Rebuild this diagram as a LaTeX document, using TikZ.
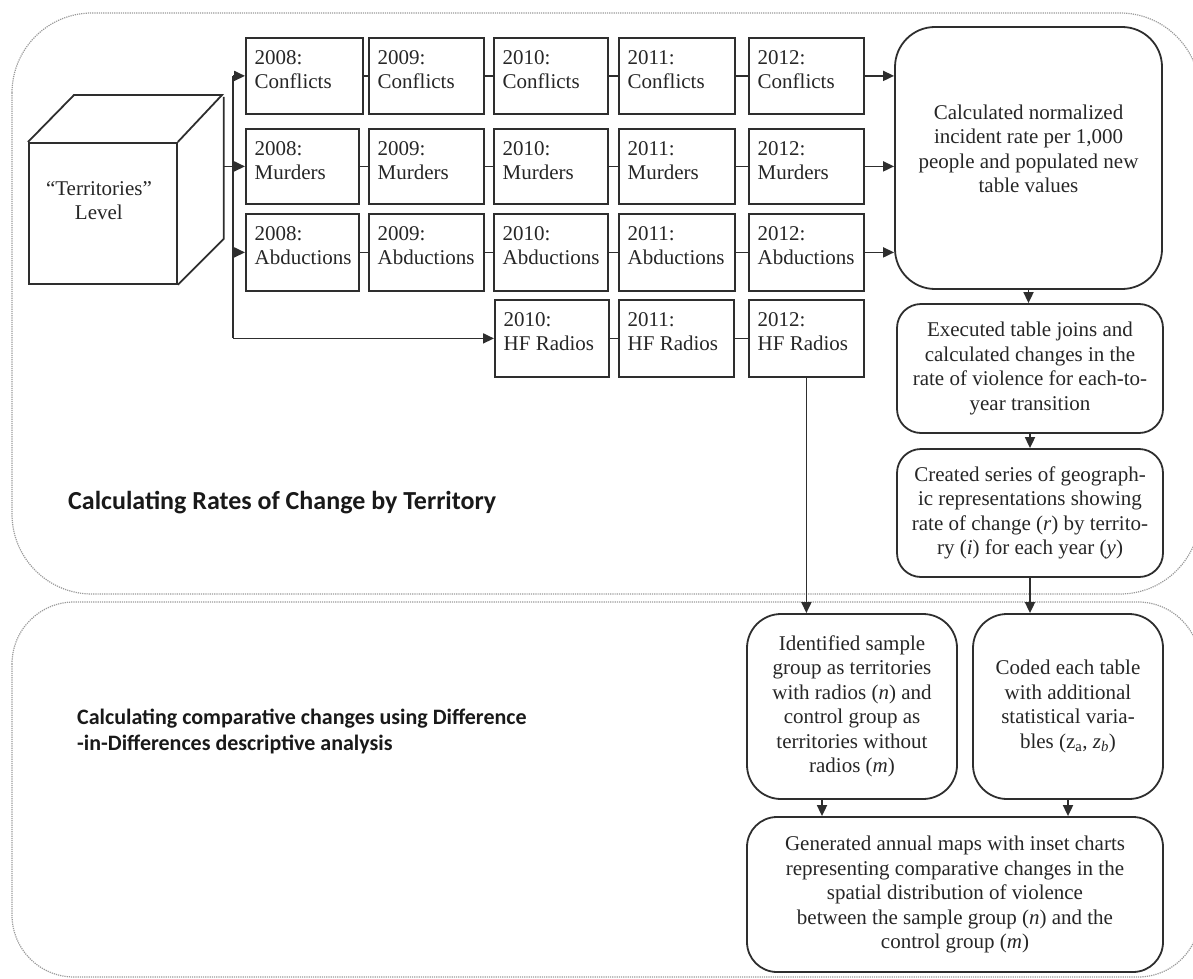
\documentclass[tikz,border=0pt]{standalone}
\usepackage{fontspec}
\setmainfont{Liberation Serif}
\newfontfamily\lblfont{Carlito}
\usetikzlibrary{arrows.meta,calc}
\newcommand\yrbox[7]{%
  \node[ybox, minimum width=#4-#2, minimum height=#5-#3] (#1) at (#2,#3) {};
  \node[ytxt] at ($(#1.north west)+(9.5,13.8)$) {#6\\#7};}
\begin{document}
\begin{tikzpicture}[x=1pt,y=-1pt,
 line/.style={draw=black!82, line width=1.8pt},
 arr/.style={line, -{Triangle[length=11pt,width=10pt]}},
 ybox/.style={line, rectangle, inner sep=0pt, anchor=north west},
 ytxt/.style={anchor=north west, inner sep=0pt, align=left, text=black!85, font=\fontsize{21}{24}\selectfont},
 txt/.style={inner sep=0pt, align=center, text=black!85, font=\fontsize{21}{24.5}\selectfont},
 rbox/.style={line, rectangle, rounded corners=#1, inner sep=0pt, align=center, text=black!85, font=\fontsize{21}{24.5}\selectfont},
 rbox/.default=25pt,
 cont/.style={draw=black!40, densely dotted, line width=1.2pt},
 lbl/.style={inner sep=0pt, text=black!90, font=\lblfont\bfseries\fontsize{22}{26}\selectfont}
]
\useasboundingbox (0,0) rectangle (1193,979);
\clip (0,0) rectangle (1193,979);
% containers
\draw[cont, rounded corners=80pt] (12,13) rectangle (1200,594);
\draw[cont, rounded corners=62pt] (12,602) rectangle (1200,977);
% cube
\node[line, rectangle, inner sep=0pt, anchor=north west, minimum width=148, minimum height=141] (cube) at (28,142) {};
\draw[line, line join=miter] (cube.north west) -- ++(46,-47) -- ++(148,0) -- (cube.north east);
\draw[line, line join=miter] (cube.south east) -- ++(46,-46) -- ++(0,-142);
\node[txt] (cubetxt) at ($(cube.center)+(-4,-13)$) {“Territories”\\Level};
\coordinate (cubeR) at ($(cube.north east)+(46,0)$);
\coordinate (bus) at (233,0);
% year boxes
\yrbox{c08}{245}{37}{362}{113}{2008:}{Conflicts}
\yrbox{c09}{368}{37}{483}{113}{2009:}{Conflicts}
\yrbox{c10}{493}{37}{607}{113}{2010:}{Conflicts}
\yrbox{c11}{618}{37}{734}{113}{2011:}{Conflicts}
\yrbox{c12}{748}{37}{863}{113}{2012:}{Conflicts}
\yrbox{m08}{245}{128}{358}{203}{2008:}{Murders}
\yrbox{m09}{368}{128}{483}{203}{2009:}{Murders}
\yrbox{m10}{493}{128}{607}{203}{2010:}{Murders}
\yrbox{m11}{618}{128}{734}{203}{2011:}{Murders}
\yrbox{m12}{748}{128}{863}{203}{2012:}{Murders}
\yrbox{a08}{245}{213}{358}{290}{2008:}{Abductions}
\yrbox{a09}{368}{213}{483}{290}{2009:}{Abductions}
\yrbox{a10}{493}{213}{607}{290}{2010:}{Abductions}
\yrbox{a11}{618}{213}{734}{290}{2011:}{Abductions}
\yrbox{a12}{748}{213}{863}{290}{2012:}{Abductions}
\yrbox{h10}{494}{299}{608}{376}{2010:}{HF Radios}
\yrbox{h11}{618}{299}{733}{376}{2011:}{HF Radios}
\yrbox{h12}{748}{299}{863}{376}{2012:}{HF Radios}
% rounded process boxes
\node[rbox=40pt, minimum width=267, minimum height=262] (norm) at (1028.5,158) {};
\node[txt] (normtxt) at ($(norm.center)+(0,-9)$) {Calculated normalized\\incident rate per 1,000\\people and populated new\\table values};
\node[rbox=24pt, minimum width=266, minimum height=129] (exec) at (1030,368.5) {Executed table joins and\\calculated changes in the\\rate of violence for each-to-\\year transition};
\node[rbox=24pt, minimum width=266, minimum height=128] (created) at (1030,513) {Created series of geograph-\\ic representations showing\\rate of change (\textit{r}) by territo-\\ry (\textit{i}) for each year (\textit{y})};
\node[rbox=34pt, minimum width=210, minimum height=185] (ident) at (852,706.5) {Identified sample\\group as territories\\with radios (\textit{n}) and\\control group as\\territories without\\radios (\textit{m})};
\node[rbox=34pt, minimum width=190, minimum height=185] (coded) at (1068,706.5) {Coded each table\\with additional\\statistical varia-\\bles (z\textsubscript{a}, \textit{z}\textsubscript{\textit{b}})};
\node[rbox=30pt, minimum width=416, minimum height=155] (gen) at (955,894.5) {Generated annual maps with inset charts\\representing comparative changes in the\\spatial distribution of violence\\between the sample group (\textit{n}) and the\\control group (\textit{m})};
% labels
\node[lbl, anchor=base west, font=\lblfont\bfseries\fontsize{26}{30}\selectfont] (lab1) at (68,509) {Calculating Rates of Change by Territory};
\node[lbl, anchor=north west, align=left] (lab2) at (77,709) {Calculating comparative changes using Difference\\-in-Differences descriptive analysis};
% connectors in rows
\foreach \r in {c,m,a}{
  \foreach \p/\q in {08/09,09/10,10/11,11/12}{\draw[line] (\r\p.east) -- (\r\q.west);}
  \draw[arr] (\r12.east) -- (\r12.east -| norm.west);
}
\draw[line] (h10.east) -- (h11.west);
\draw[line] (h11.east) -- (h12.west);
% bus
\draw[line] (c08.west -| bus) -- (h10.west -| bus);
\draw[arr] (c08.west -| bus) -- (c08.west);
\draw[arr] (a08.west -| bus) -- (a08.west);
\draw[arr] (h10.west -| bus) -- (h10.west);
\draw[arr] (m08.west -| cubeR) -- (m08.west);
% vertical flow
\draw[arr] (norm.south) -- (norm.south |- exec.north);
\draw[arr] (exec.south) -- (created.north);
\draw[arr] (created.south) -- (created.south |- coded.north);
\draw[arr] (h12.south) -- (h12.south |- ident.north);
\draw[arr] ($(ident.south)+(-30,0)$) -- ($(ident.south |- gen.north)+(-30,0)$);
\draw[arr] (coded.south) -- (coded.south |- gen.north);
\end{tikzpicture}
\end{document}
